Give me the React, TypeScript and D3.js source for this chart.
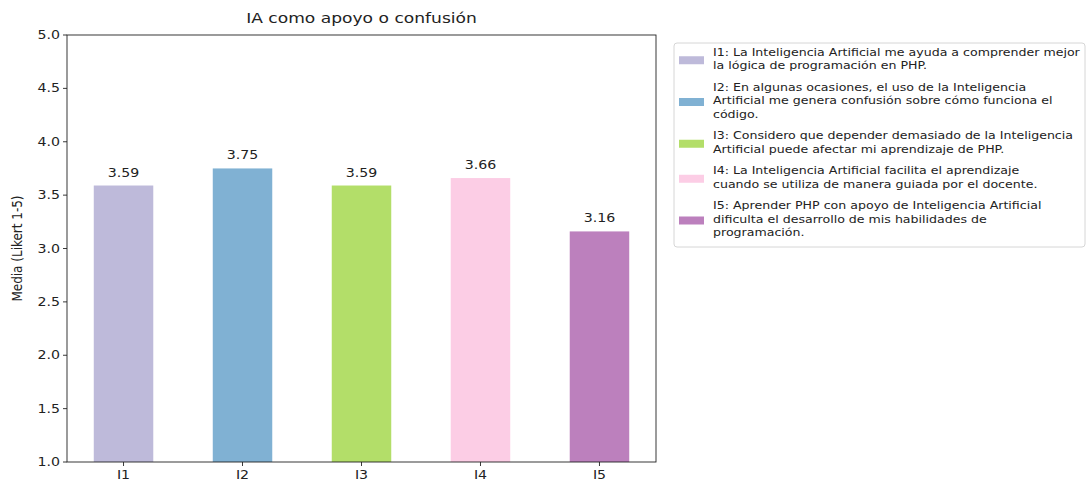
import React, { useEffect, useRef } from 'react';
import * as d3 from 'd3';

// chart data
const categories = ['I1', 'I2', 'I3', 'I4', 'I5'];
const means = [3.59, 3.75, 3.59, 3.66, 3.16];
const colors = ['#bebada', '#80b1d3', '#b3de69', '#fccde5', '#bc80bd'];
const yTicks = [1.0, 1.5, 2.0, 2.5, 3.0, 3.5, 4.0, 4.5, 5.0];
const legendLines = [
  ['I1: La Inteligencia Artificial me ayuda a comprender mejor', 'la lógica de programación en PHP.'],
  ['I2: En algunas ocasiones, el uso de la Inteligencia', 'Artificial me genera confusión sobre cómo funciona el', 'código.'],
  ['I3: Considero que depender demasiado de la Inteligencia', 'Artificial puede afectar mi aprendizaje de PHP.'],
  ['I4: La Inteligencia Artificial facilita el aprendizaje', 'cuando se utiliza de manera guiada por el docente.'],
  ['I5: Aprender PHP con apoyo de Inteligencia Artificial', 'dificulta el desarrollo de mis habilidades de', 'programación.'],
];

// the source picture is a bit wider than tall, so glyphs get stretched sideways
const SX = 1.18;

const App: React.FC = () => {
  const ref = useRef<SVGSVGElement>(null);

  useEffect(() => {
    document.body.style.margin = '0';
    if (!ref.current) return;

    const width = 1086;
    const height = 487;
    const m = { left: 67, right: 656, top: 35, bottom: 462 };
    const font = 'DejaVu Sans, sans-serif';

    const svg = d3.select(ref.current)
      .attr('width', width)
      .attr('height', height)
      .style('display', 'block')
      .style('background', '#fff');
    svg.selectAll('*').remove();

    // text placed at (tx, ty), squeezed/stretched horizontally by sx
    const label = (
      parent: d3.Selection<any, unknown, null, undefined>,
      tx: number, ty: number, str: string, size: number,
      anchor = 'start', sx = SX, baseline = 'auto'
    ) => parent.append('text')
      .attr('transform', `translate(${tx},${ty}) scale(${sx},1)`)
      .attr('text-anchor', anchor)
      .attr('dominant-baseline', baseline)
      .style('font-family', font)
      .style('font-size', `${size}px`)
      .attr('fill', '#222')
      .text(str);

    const x = d3.scaleLinear().domain([-0.475, 4.475]).range([m.left, m.right]);
    const y = d3.scaleLinear().domain([1, 5]).range([m.bottom, m.top]);
    const barW = 0.5;

    // bars
    svg.append('g').selectAll('rect')
      .data(means)
      .enter().append('rect')
      .attr('x', (_, i) => x(i - barW / 2))
      .attr('width', (_, i) => x(i + barW / 2) - x(i - barW / 2))
      .attr('y', d => y(d))
      .attr('height', d => y(1) - y(d))
      .attr('fill', (_, i) => colors[i]);

    // value labels
    const vl = svg.append('g');
    means.forEach((d, i) => label(vl, x(i), y(d) - 9, d.toFixed(2), 12, 'middle'));

    // ticks
    const ax = svg.append('g');
    yTicks.forEach(t => {
      ax.append('line')
        .attr('x1', m.left - 4).attr('x2', m.left)
        .attr('y1', y(t)).attr('y2', y(t))
        .attr('stroke', '#222').attr('stroke-width', 0.9);
      label(ax, m.left - 7, y(t), d3.format('.1f')(t), 12, 'end', SX, 'central');
    });
    categories.forEach((c, i) => {
      ax.append('line')
        .attr('x1', x(i)).attr('x2', x(i))
        .attr('y1', m.bottom).attr('y2', m.bottom + 4)
        .attr('stroke', '#222').attr('stroke-width', 0.9);
      label(ax, x(i), m.bottom + 17, c, 12, 'middle');
    });

    // frame
    svg.append('rect')
      .attr('x', m.left)
      .attr('y', m.top)
      .attr('width', m.right - m.left)
      .attr('height', m.bottom - m.top)
      .attr('fill', 'none')
      .attr('stroke', '#222')
      .attr('stroke-width', 0.9);

    // title and y label
    label(svg, (m.left + m.right) / 2, 23, 'IA como apoyo o confusión', 14.5, 'middle');

    svg.append('text')
      .attr('transform', `translate(22,${(m.top + m.bottom) / 2}) scale(${SX},1) rotate(-90)`)
      .attr('text-anchor', 'middle')
      .style('font-family', font)
      .style('font-size', '12px')
      .attr('fill', '#222')
      .text('Media (Likert 1-5)');

    // legend
    const lg = svg.append('g');
    lg.append('rect')
      .attr('x', 674)
      .attr('y', 43)
      .attr('width', 411)
      .attr('height', 204)
      .attr('rx', 3)
      .attr('fill', '#fff')
      .attr('stroke', '#d6d6d6')
      .attr('stroke-width', 1);

    const lineH = 13.5;
    const gap = 21.5;
    let yy = 52;
    legendLines.forEach((lines, i) => {
      const first = yy;
      lines.forEach((ln, j) => label(lg, 713, first + j * lineH, ln, 10.5, 'start', 1.2, 'central'));
      const last = first + (lines.length - 1) * lineH;
      const mid = (first + last) / 2 + 1.5;
      lg.append('rect')
        .attr('x', 679)
        .attr('y', mid - 4)
        .attr('width', 25)
        .attr('height', 8)
        .attr('fill', colors[i]);
      yy = last + gap;
    });
  }, []);

  return <svg ref={ref}></svg>;
};

export default App;
